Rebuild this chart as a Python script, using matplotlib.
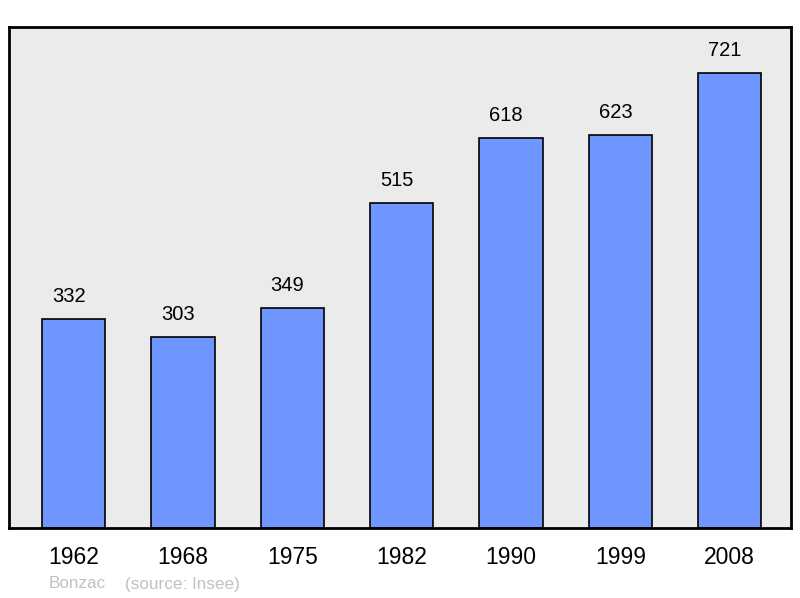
import matplotlib
matplotlib.use("Agg")
import matplotlib.pyplot as plt

years = ["1962", "1968", "1975", "1982", "1990", "1999", "2008"]
population = [332, 303, 349, 515, 618, 623, 721]
commune = "Bonzac"
source = "(source: Insee)"

plt.rcParams['font.family'] = ['Liberation Sans', 'DejaVu Sans']

fig = plt.figure(figsize=(8, 5.98), dpi=100)
W, H = 800, 598
ax = fig.add_axes([9 / W, (H - 528) / H, (791 - 9) / W, (528 - 27) / H])
ax.set_facecolor('#ebebeb')

x = list(range(len(years)))
bars = ax.bar(x, population, width=0.58, color='#6f96ff', edgecolor='black', linewidth=1.2, zorder=2)
for xi, v in zip(x, population):
    ax.annotate(str(v), (xi, v), xytext=(-3.5, 16), textcoords='offset points',
                ha='center', va='center', fontsize=14.5, color='black')

ax.set_xlim(-0.59, 6.56)
ax.set_ylim(0, 794)
ax.set_xticks(x)
ax.set_xticklabels(years, fontsize=16.5)
ax.tick_params(axis='x', length=0, pad=13)
ax.set_yticks([])
for s in ax.spines.values():
    s.set_linewidth(2)
    s.set_color('black')

fig.text(49 / W, 1 - 584 / H, commune, fontsize=12.3, color='#c0c0c0', va='center', ha='left')
fig.text(125 / W, 1 - 584 / H, source, fontsize=12.3, color='#c0c0c0', va='center', ha='left')

fig.savefig('out.png', dpi=100)
